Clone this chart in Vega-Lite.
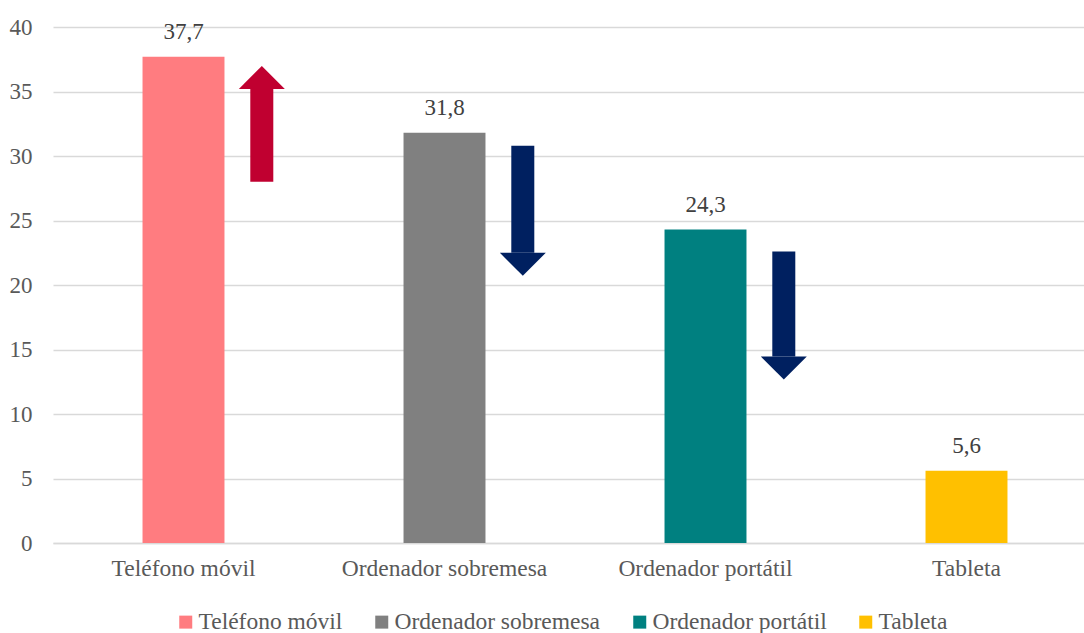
{
  "$schema": "https://vega.github.io/schema/vega-lite/v6.json",
  "width": 1031,
  "height": 516,
  "autosize": {"type": "none"},
  "padding": {"left": 53, "top": 27, "right": 0, "bottom": 90},
  "config": {
    "view": {"stroke": null},
    "font": "Liberation Serif, Times New Roman, serif",
    "locale": {"number": {"decimal": ",", "thousands": ".", "grouping": [3], "currency": ["", " €"]}}
  },
  "datasets": {
    "bars": [
      {"dispositivo": "Teléfono móvil", "valor": 37.7},
      {"dispositivo": "Ordenador sobremesa", "valor": 31.8},
      {"dispositivo": "Ordenador portátil", "valor": 24.3},
      {"dispositivo": "Tableta", "valor": 5.6}
    ],
    "arrows": [
      {"dispositivo": "Teléfono móvil", "direccion": "sube", "inicio": 28.0, "base": 35.2},
      {"dispositivo": "Ordenador sobremesa", "direccion": "baja", "inicio": 30.8, "base": 22.5},
      {"dispositivo": "Ordenador portátil", "direccion": "baja", "inicio": 22.6, "base": 14.45}
    ]
  },
  "layer": [
    {
      "data": {"name": "bars"},
      "mark": {"type": "bar", "width": {"band": 0.314}},
      "encoding": {
        "x": {
          "field": "dispositivo",
          "type": "nominal",
          "scale": {
            "domain": ["Teléfono móvil", "Ordenador sobremesa", "Ordenador portátil", "Tableta"],
            "range": [0, 1044],
            "paddingInner": 0,
            "paddingOuter": 0
          },
          "axis": {
            "title": null,
            "labelAngle": 0,
            "ticks": false,
            "domainColor": "#D9D9D9",
            "domainWidth": 1.5,
            "labelPadding": 13,
            "labelFont": "Liberation Serif, Times New Roman, serif",
            "labelFontSize": 23.5,
            "labelLimit": 0,
            "labelColor": "#595959",
            "grid": false
          }
        },
        "y": {
          "field": "valor",
          "type": "quantitative",
          "scale": {"domain": [0, 40], "nice": false},
          "axis": {
            "title": null,
            "values": [0, 5, 10, 15, 20, 25, 30, 35, 40],
            "domain": false,
            "ticks": false,
            "labelPadding": 21,
            "labelFont": "Liberation Serif, Times New Roman, serif",
            "labelFontSize": 23,
            "labelColor": "#595959",
            "gridColor": "#D9D9D9",
            "gridWidth": 1.3
          }
        },
        "color": {
          "field": "dispositivo",
          "type": "nominal",
          "scale": {
            "domain": ["Teléfono móvil", "Ordenador sobremesa", "Ordenador portátil", "Tableta"],
            "range": ["#FF7C80", "#808080", "#008080", "#FFC000"]
          },
          "legend": {
            "orient": "none",
            "legendX": 121,
            "legendY": 583,
            "direction": "horizontal",
            "title": null,
            "symbolType": "square",
            "symbolSize": 169,
            "symbolStrokeWidth": 0,
            "labelFont": "Liberation Serif, Times New Roman, serif",
            "labelFontSize": 23.5,
            "labelLimit": 0,
            "labelColor": "#595959",
            "labelOffset": 1,
            "columnPadding": 27
          }
        }
      }
    },
    {
      "data": {"name": "bars"},
      "mark": {"type": "text", "baseline": "alphabetic", "dy": -18, "fontSize": 23, "font": "Liberation Serif, Times New Roman, serif", "color": "#404040"},
      "encoding": {
        "x": {"field": "dispositivo", "type": "nominal"},
        "y": {"field": "valor", "type": "quantitative"},
        "text": {"field": "valor", "type": "quantitative", "format": ".1f"}
      }
    },
    {
      "data": {"name": "arrows"},
      "mark": {"type": "rule", "strokeWidth": 23, "strokeCap": "butt"},
      "encoding": {
        "x": {"field": "dispositivo", "type": "nominal", "bandPosition": 0.8},
        "y": {"field": "inicio", "type": "quantitative"},
        "y2": {"field": "base"},
        "color": {
          "field": "direccion",
          "type": "nominal",
          "scale": {"domain": ["sube", "baja"], "range": ["#C00030", "#002060"]},
          "legend": null
        }
      }
    },
    {
      "data": {"name": "arrows"},
      "mark": {"type": "point", "filled": true, "opacity": 1, "size": 2116, "strokeWidth": 0},
      "encoding": {
        "x": {"field": "dispositivo", "type": "nominal", "bandPosition": 0.8},
        "y": {"field": "base", "type": "quantitative"},
        "shape": {
          "field": "direccion",
          "type": "nominal",
          "scale": {"domain": ["sube", "baja"], "range": ["M-1,0L1,0L0,-1Z", "M-1,0L1,0L0,1Z"]},
          "legend": null
        },
        "color": {
          "field": "direccion",
          "type": "nominal",
          "scale": {"domain": ["sube", "baja"], "range": ["#C00030", "#002060"]},
          "legend": null
        }
      }
    }
  ],
  "resolve": {"scale": {"color": "independent"}}
}
